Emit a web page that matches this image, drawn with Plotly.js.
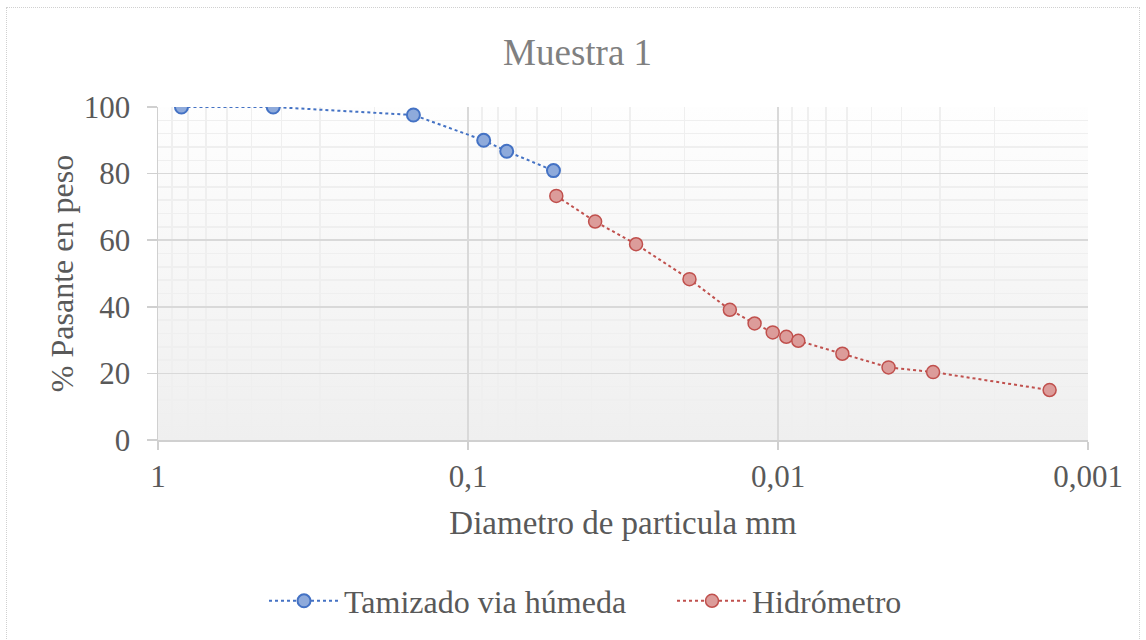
<!DOCTYPE html>
<html>
<head>
<meta charset="utf-8">
<script src="https://cdn.plot.ly/plotly-3.0.1.min.js"></script>
<style>
  html, body { margin: 0; padding: 0; background: #ffffff; }
  #chart { width: 1146px; height: 640px; position: absolute; left: 0; top: 0; }
  #frame { position: absolute; left: 6px; top: 7px; width: 1132px; height: 640px; border: 1px dotted #d0d0d0; pointer-events: none; }
</style>
</head>
<body>
<div id="chart"></div>
<div id="frame"></div>
<script>
// Tamizado via húmeda (sieve)
const sieveDiameter = [0.84, 0.425, 0.15, 0.089, 0.075, 0.053];
const sievePassing  = [100, 100, 97.6, 90.0, 86.7, 80.9];

// Hidrómetro
const hydroDiameter = [0.0519, 0.0389, 0.0287, 0.0193, 0.0143, 0.0119, 0.0104, 0.0094, 0.0086, 0.0062, 0.0044, 0.00316, 0.00133];
const hydroPassing  = [73.3, 65.6, 58.8, 48.3, 39.1, 35.0, 32.3, 31.0, 29.8, 25.9, 21.8, 20.4, 15.0];

const xTickVals = [1, 0.1, 0.01, 0.001];
const xTickText = ['1', '0,1', '0,01', '0,001'];

const seriesNames = ['Tamizado via húmeda', 'Hidrómetro'];

const FONT = '"Liberation Serif", "Times New Roman", serif';

const gradSvg = '<svg xmlns="http://www.w3.org/2000/svg" width="10" height="100" preserveAspectRatio="none">' +
  '<defs><linearGradient id="g" x1="0" y1="0" x2="0" y2="1">' +
  '<stop offset="0" stop-color="#fefefe"/><stop offset="1" stop-color="#efefef"/>' +
  '</linearGradient></defs><rect width="10" height="100" fill="url(#g)"/></svg>';
const gradUri = 'data:image/svg+xml;base64,' + btoa(gradSvg);

const traces = [
  {
    x: sieveDiameter, y: sievePassing, name: seriesNames[0],
    type: 'scatter', mode: 'lines+markers',
    line: { color: '#4472c4', width: 2, dash: 'dot' },
    marker: { symbol: 'circle', size: 13, color: '#8eaadb', line: { color: '#4472c4', width: 2 } }
  },
  {
    x: hydroDiameter, y: hydroPassing, name: seriesNames[1],
    type: 'scatter', mode: 'lines+markers',
    line: { color: '#c0504d', width: 2, dash: 'dot' },
    marker: { symbol: 'circle', size: 13, color: '#dc9c9a', line: { color: '#c0504d', width: 1.5 } }
  }
];

const layout = {
  width: 1146, height: 640,
  margin: { l: 158, r: 58, t: 107, b: 200 },
  paper_bgcolor: '#ffffff',
  plot_bgcolor: 'rgba(0,0,0,0)',
  font: { family: FONT, size: 32, color: '#595959' },
  title: {
    text: 'Muestra 1',
    font: { family: FONT, size: 37, color: '#808080' },
    x: 0.504, xref: 'container', xanchor: 'center',
    y: 1 - 52 / 640, yref: 'container', yanchor: 'middle'
  },
  xaxis: {
    type: 'log',
    range: [0, -3],
    tickvals: xTickVals, ticktext: xTickText,
    tickfont: { family: FONT, size: 31, color: '#595959' },
    ticks: 'outside', ticklen: 8, tickcolor: '#d0d0d0', tickwidth: 1.5,
    showline: true, linecolor: '#d0d0d0', linewidth: 1.5,
    showgrid: true, gridcolor: '#d9d9d9', gridwidth: 1.5,
    minor: { showgrid: true, gridcolor: '#efefef', gridwidth: 1.5, dtick: 'D1' },
    zeroline: false,
    title: { text: 'Diametro de particula mm', font: { family: FONT, size: 33, color: '#595959' }, standoff: 18 }
  },
  yaxis: {
    range: [0, 100],
    dtick: 20,
    tickfont: { family: FONT, size: 31, color: '#595959' },
    ticks: 'outside', ticklen: 10, tickcolor: '#d0d0d0', tickwidth: 1.5,
    showline: true, linecolor: '#d0d0d0', linewidth: 1.5,
    showgrid: true, gridcolor: '#d9d9d9', gridwidth: 1.5,
    minor: { showgrid: true, gridcolor: '#efefef', gridwidth: 1.5, dtick: 4 },
    zeroline: false,
    ticklabelstandoff: 10,
    title: { text: '% Pasante en peso', font: { family: FONT, size: 32, color: '#595959' }, standoff: 0 }
  },
  legend: {
    orientation: 'h',
    x: (264 - 158) / 930, xanchor: 'left',
    y: (440 - 601) / 333, yanchor: 'middle',
    font: { family: FONT, size: 32, color: '#595959' },
    itemwidth: 70,
    entrywidth: 323, entrywidthmode: 'pixels',
    bgcolor: 'rgba(0,0,0,0)'
  },
  images: [{
    source: gradUri, xref: 'paper', yref: 'paper',
    x: 0, y: 1, sizex: 1, sizey: 1, sizing: 'stretch',
    xanchor: 'left', yanchor: 'top', layer: 'below'
  }],
  showlegend: true
};

Plotly.newPlot('chart', traces, layout, { displayModeBar: false, staticPlot: true });
</script>
</body>
</html>
